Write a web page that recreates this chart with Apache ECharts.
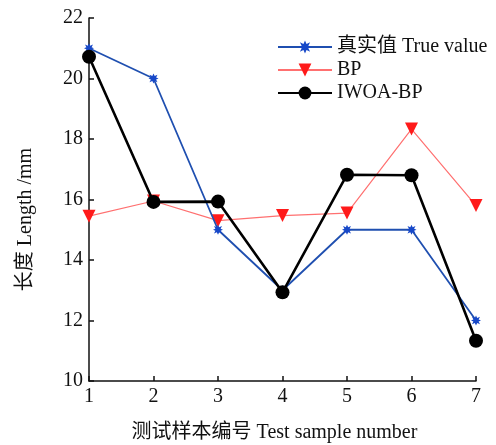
<!DOCTYPE html>
<html>
<head>
<meta charset="utf-8">
<script src="https://cdn.jsdelivr.net/npm/echarts@6/dist/echarts.min.js"></script>
<style>
  html, body { margin: 0; padding: 0; background: #fff; }
  #chart { width: 496px; height: 445px; }
</style>
</head>
<body>
<div id="chart"></div>
<script>
// Test sample numbers and measured / predicted lengths (mm)
const samples = [1, 2, 3, 4, 5, 6, 7];
const trueValue = [21, 20, 15, 13, 15, 15, 12];
const bpValue = [15.45, 15.95, 15.3, 15.47, 15.55, 18.33, 15.8];
const iwoaValue = [20.72, 15.92, 15.93, 12.93, 16.82, 16.8, 11.33];
const seriesNames = ['真实值 True value', 'BP', 'IWOA-BP'];

const fontFamily = '"Liberation Serif", "Noto Sans CJK SC", serif';
const pair = (vals) => samples.map((s, i) => [s, vals[i]]);

// small filled asterisk-like marker
const starPath = 'path://M50,0 L62,26 L90,12 L76,40 L100,50 L76,60 L90,88 L62,74 L50,100 L38,74 L10,88 L24,60 L0,50 L24,40 L10,12 L38,26 Z';

const chart = echarts.init(document.getElementById('chart'));
chart.setOption({
  animation: false,
  backgroundColor: '#fff',
  grid: { left: 89, right: 20, top: 18, bottom: 64, outerBoundsMode: 'none' },
  legend: {
    orient: 'vertical',
    left: 272,
    top: 32,
    itemWidth: 54,
    itemHeight: 16,
    itemGap: 3,
    textStyle: { fontFamily, fontSize: 20, color: '#111' },
    data: seriesNames
  },
  xAxis: {
    type: 'value',
    min: 1, max: 7, interval: 1,
    name: '测试样本编号 Test sample number',
    nameLocation: 'middle',
    nameGap: 42,
    nameTextStyle: { fontFamily, fontSize: 20, color: '#111', padding: [0, 16, 0, 0] },
    axisLine: { lineStyle: { color: '#111', width: 1.5 } },
    axisTick: { inside: true, length: 5, lineStyle: { color: '#111', width: 1.5 } },
    axisLabel: { fontFamily, fontSize: 20, color: '#111', margin: 6 },
    splitLine: { show: false }
  },
  yAxis: {
    type: 'value',
    min: 10, max: 22, interval: 2,
    name: '长度 Length /mm',
    nameLocation: 'middle',
    nameGap: 53,
    nameTextStyle: { fontFamily, fontSize: 20, color: '#111', padding: [0, 40, 0, 0] },
    axisLine: { show: true, lineStyle: { color: '#111', width: 1.5 } },
    axisTick: { show: true, inside: true, length: 5, lineStyle: { color: '#111', width: 1.5 } },
    axisLabel: { fontFamily, fontSize: 20, color: '#111', margin: 6 },
    splitLine: { show: false }
  },
  series: [
    {
      name: seriesNames[0],
      type: 'line',
      data: pair(trueValue),
      symbol: starPath,
      symbolSize: 10,
      showAllSymbol: true,
      lineStyle: { color: '#1f4fb0', width: 1.8 },
      itemStyle: { color: '#1748c8', borderWidth: 0 },
      z: 3
    },
    {
      name: seriesNames[1],
      type: 'line',
      data: pair(bpValue),
      symbol: 'triangle',
      symbolRotate: 180,
      symbolSize: 13,
      lineStyle: { color: '#ff7070', width: 1.2 },
      itemStyle: { color: '#ff1a1a', borderWidth: 0 },
      z: 2
    },
    {
      name: seriesNames[2],
      type: 'line',
      data: pair(iwoaValue),
      symbol: 'circle',
      symbolSize: 14,
      lineStyle: { color: '#000', width: 2.6 },
      itemStyle: { color: '#000', borderWidth: 0 },
      z: 4
    }
  ]
});
</script>
</body>
</html>
